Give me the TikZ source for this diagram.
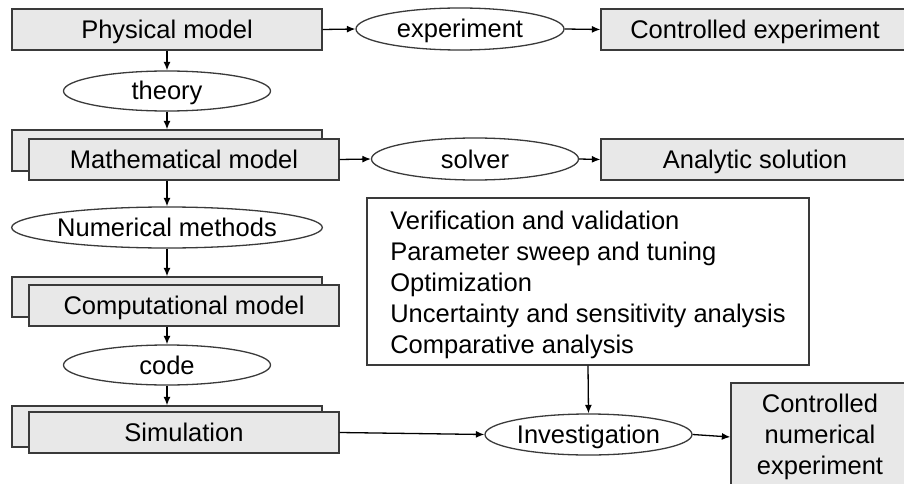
\documentclass[tikz,border=0pt]{standalone}
\usepackage{fontspec}
\setmainfont{Liberation Sans}
\usetikzlibrary{shapes.geometric,arrows.meta}

\definecolor{boxfill}{HTML}{E8E8E8}
\definecolor{edge}{HTML}{3A3A3A}

\tikzset{
  every node/.style={font=\fontsize{25.5}{31}\selectfont, inner sep=0pt},
  oneline/.style={text height=20pt, text depth=2pt},
  stagebox/.style={oneline, draw=edge, fill=boxfill, line width=1.3pt, rectangle,
    minimum width=310pt, minimum height=41pt},
  resultbox/.style={oneline, draw=edge, fill=boxfill, line width=1.3pt, rectangle,
    minimum width=308pt, minimum height=41pt},
  process/.style={oneline, draw=edge, fill=white, line width=1.3pt, ellipse,
    minimum width=207pt, minimum height=40pt},
  flow/.style={draw=black, line width=1.3pt, -{Latex[length=8.5pt,width=7pt]}},
}

\begin{document}
\begin{tikzpicture}[x=1pt,y=-1pt]
  \useasboundingbox (0,0) rectangle (904,484);
  \clip (0,0) rectangle (904,484);
  \fill[white] (0,0) rectangle (904,484);

  % left column: modelling chain
  \node[stagebox] (phys) at (167,29.5) {Physical model};
  \node[process] (theory) at (167,91) {theory};
  \node[stagebox] (mathB) at (167,150.5) {};
  \node[stagebox] (mathF) at (184,159.5) {Mathematical model};
  \node[process, minimum width=310pt, minimum height=41pt] (nm) at (167,227.5) {Numerical methods};
  \node[stagebox, minimum height=40pt] (compB) at (167,297) {};
  \node[stagebox] (compF) at (184,305.5) {Computational model};
  \node[process] (code) at (167,365) {code};
  \node[stagebox] (simB) at (167,426.5) {};
  \node[stagebox] (simF) at (184,432.5) {Simulation};

  % top rows: experiment and analytic branches
  \node[process, minimum width=208pt, minimum height=42pt] (exp) at (460,29) {experiment};
  \node[resultbox] (cexp) at (755,29.5) {Controlled experiment};
  \node[process, minimum width=207pt, minimum height=42pt] (solver) at (475,159) {solver};
  \node[resultbox] (anal) at (755,159.5) {Analytic solution};

  % investigation branch
  \node[draw=edge, fill=white, line width=1.3pt, rectangle, align=left,
        minimum width=442pt, minimum height=167pt] (tasks) at (588,281.5)
    {\rule{0pt}{24.6pt}Verification and validation\\
     Parameter sweep and tuning\\
     Optimization\\
     Uncertainty and sensitivity analysis\\
     Comparative analysis};
  \node[process, minimum width=207pt, minimum height=41pt] (inv) at (588.5,434.5) {Investigation};
  \node[draw=edge, fill=boxfill, line width=1.3pt, rectangle, align=center,
        minimum width=178pt, minimum height=108pt] (cnum) at (820,437)
    {Controlled\\numerical\\experiment};

  % connectors
  \draw[flow] (phys.east) -- (exp.west);
  \draw[flow] (exp.east) -- (cexp.west);
  \draw[flow] (phys.south) -- (theory.north);
  \draw[flow] (theory.south) -- (mathB.north);
  \draw[flow] (mathF.east) -- (solver.west);
  \draw[flow] (solver.east) -- (anal.west);
  \draw[flow] (nm.north |- mathF.south) -- (nm.north);
  \draw[flow] (nm.south) -- (compB.north);
  \draw[flow] (code.north |- compF.south) -- (code.north);
  \draw[flow] (code.south) -- (simB.north);
  \draw[flow] (simF.east) -- (inv.west);
  \draw[flow] (tasks.south) -- (inv.north);
  \draw[flow] (inv.east) -- (cnum.west);
\end{tikzpicture}
\end{document}
